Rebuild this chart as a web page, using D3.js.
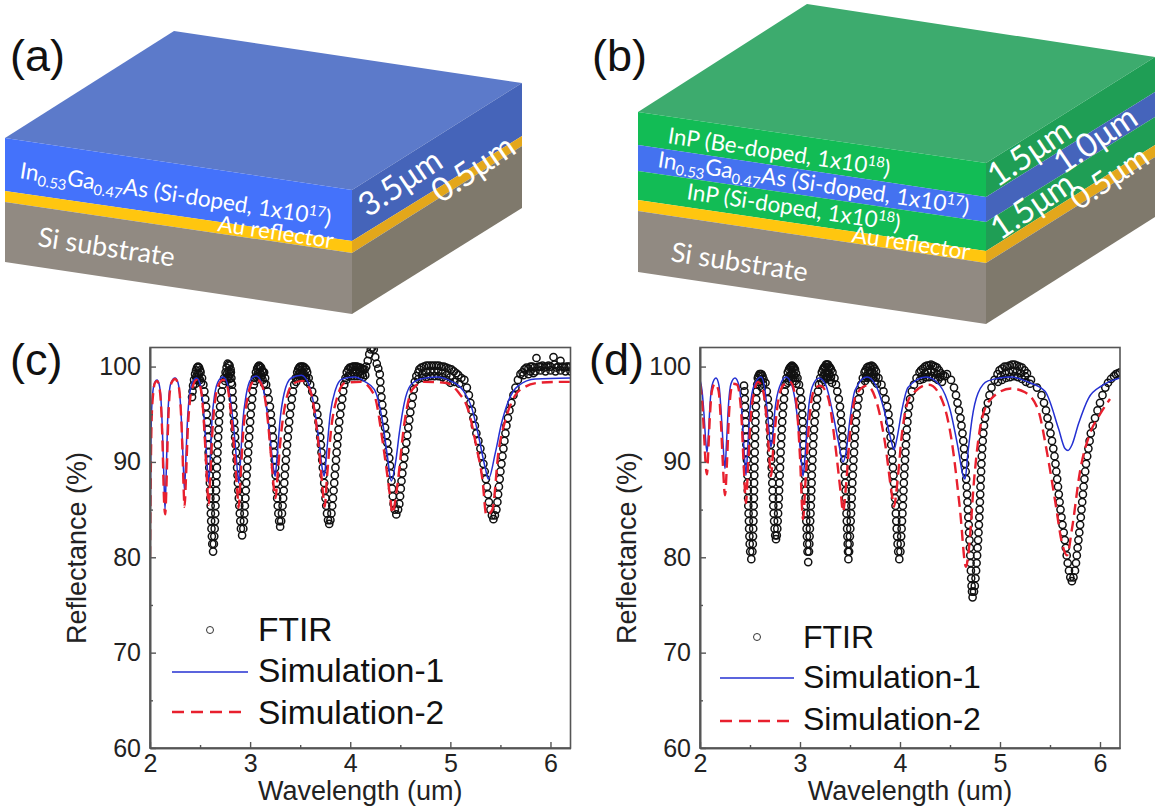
<!DOCTYPE html>
<html>
<head>
<title>Reflectance of cavity structures</title>
<script src="https://d3js.org/d3.v7.min.js"></script>
<style>
    body { margin: 0; background: #fff; }
    svg { display: block; }
    .panel-label { font-family: "Liberation Sans", sans-serif; font-size: 45px; fill: #111; }
    .layer-label { font-family: Lato, "Open Sans", sans-serif; fill: #fff; }
    .tick text { font-family: "Liberation Sans", sans-serif; font-size: 25px; fill: #222; }
    .axis-title { font-family: "Liberation Sans", sans-serif; font-size: 27px; fill: #222; }
    .legend-text { font-family: "Liberation Sans", sans-serif; fill: #111; }
</style>
</head>
<body>
<script>
var w = 1156, h = 810;

// tick labels
var xTicks = [2, 3, 4, 5, 6];
var xMinor = [2.5, 3.5, 4.5, 5.5];
var yTicks = [60, 70, 80, 90, 100];
var yMinor = [65, 75, 85, 95];
var legendNames = ["FTIR", "Simulation-1", "Simulation-2"];

// panel (c) measured spectrum [wavelength, reflectance]
var ftirC = [[2.42,96.8],[2.425,97.4],[2.43,98],[2.44,98.6],[2.45,99.2],[2.46,99.6],[2.47,99.9],[2.48,100],[2.49,99.9],[2.5,99.6],[2.46,98.9],[2.475,99.2],[2.49,99.2],
[2.505,99.4],[2.52,98.8],[2.533,98.1],[2.543,97.4],[2.552,96.6],[2.56,95.8],[2.566,95],[2.571,94.2],[2.575,93.4],[2.58,92.6],[2.583,91.8],[2.586,91],[2.589,90.2],[2.592,89.4],[2.595,88.6],[2.598,87.8],[2.6,87],[2.603,86.2],[2.606,85.4],[2.608,84.6],[2.611,83.8],[2.614,83],[2.618,82.2],[2.622,81.4],[2.63,80.6],
[2.638,81.4],[2.642,82.2],[2.646,83],[2.649,83.8],[2.652,84.6],[2.654,85.4],[2.657,86.2],[2.66,87],[2.662,87.8],[2.665,88.6],[2.668,89.4],[2.671,90.2],[2.674,91],[2.677,91.8],[2.68,92.6],[2.685,93.4],[2.689,94.2],[2.694,95],[2.7,95.8],[2.708,96.6],[2.717,97.4],[2.727,98.1],[2.74,98.8],[2.755,99.4],
[2.765,99.9],[2.775,100.3],[2.785,100.2],[2.795,100.1],[2.805,99.7],[2.77,99.3],[2.785,99.5],[2.8,99.2],
[2.808,99.4],[2.813,98.8],[2.819,98.1],[2.823,97.4],[2.827,96.6],[2.831,95.8],[2.835,95],[2.84,94.2],[2.845,93.4],[2.85,92.6],[2.855,91.8],[2.86,91],[2.865,90.2],[2.87,89.4],[2.874,88.6],[2.878,87.8],[2.882,87],[2.887,86.2],[2.892,85.4],[2.897,84.6],[2.902,83.8],[2.908,83],[2.92,82.3],
[2.932,83],[2.938,83.8],[2.943,84.6],[2.948,85.4],[2.953,86.2],[2.957,87],[2.961,87.8],[2.965,88.6],[2.97,89.4],[2.975,90.2],[2.98,91],[2.985,91.8],[2.99,92.6],[2.995,93.4],[3,94.2],[3.006,95],[3.013,95.8],[3.02,96.6],[3.028,97.4],[3.037,98.1],[3.047,98.8],[3.058,99.4],
[3.07,99.8],[3.08,100],[3.09,100.1],[3.1,100],[3.11,99.9],[3.12,99.6],[3.13,99.4],[3.075,99.2],[3.095,99.4],[3.115,99.1],
[3.14,99.4],[3.15,98.8],[3.16,98.1],[3.173,97.4],[3.185,96.6],[3.198,95.8],[3.207,95],[3.214,94.2],[3.221,93.4],[3.228,92.6],[3.234,91.8],[3.24,91],[3.245,90.2],[3.25,89.4],[3.255,88.6],[3.26,87.8],[3.265,87],[3.27,86.2],[3.276,85.4],[3.282,84.6],[3.29,83.8],[3.3,83.2],
[3.31,83.8],[3.318,84.6],[3.324,85.4],[3.33,86.2],[3.336,87],[3.341,87.8],[3.346,88.6],[3.351,89.4],[3.357,90.2],[3.363,91],[3.369,91.8],[3.376,92.6],[3.383,93.4],[3.39,94.2],[3.398,95],[3.408,95.8],[3.417,96.6],[3.428,97.4],[3.44,98.1],[3.455,98.8],[3.47,99.4],
[3.48,99.7],[3.49,99.9],[3.5,100],[3.515,100],[3.53,100],[3.545,99.9],[3.56,99.7],[3.57,99.4],[3.485,99.2],[3.5,99.3],[3.52,99.3],[3.54,99.2],[3.56,98.9],
[3.585,98.8],[3.6,98.1],[3.62,97.4],[3.64,96.6],[3.66,95.8],[3.672,95],[3.683,94.2],[3.693,93.4],[3.7,92.6],[3.707,91.8],[3.713,91],[3.72,90.2],[3.726,89.4],[3.733,88.6],[3.74,87.8],[3.746,87],[3.753,86.2],[3.76,85.4],[3.768,84.6],[3.778,83.9],[3.79,83.5],
[3.802,83.9],[3.812,84.6],[3.82,85.4],[3.827,86.2],[3.834,87],[3.84,87.8],[3.846,88.6],[3.852,89.4],[3.858,90.2],[3.864,91],[3.87,91.8],[3.876,92.6],[3.883,93.4],[3.89,94.2],[3.9,95],[3.91,95.8],[3.92,96.6],[3.93,97.4],[3.94,98.1],[3.952,98.8],[3.965,99.4],
[3.98,99.7],[3.995,99.9],[4.01,99.9],[4.025,100],[4.04,100],[4.055,100],[4.07,100],[4.085,99.9],[4.1,99.9],[4.115,99.8],[4.13,99.7],[4.145,99.7],[4,99.3],[4.03,99.4],[4.06,99.4],[4.09,99.4],[4.12,99.2],[4.15,99.1],
[4.16,100],[4.175,100.6],[4.19,101.3],[4.205,101.8],[4.22,102],[4.235,101.8],[4.25,101],[4.265,100.3],[4.28,99.8],
[4.295,99.2],[4.3,98.4],[4.305,97.6],[4.312,96.8],[4.32,96],[4.328,95.2],[4.337,94.4],[4.348,93.6],[4.36,92.8],[4.37,92],[4.38,91.2],[4.39,90.4],[4.398,89.6],[4.405,88.8],[4.412,88],[4.418,87.2],[4.425,86.4],[4.433,85.6],[4.445,85],[4.46,84.5],
[4.478,85],[4.49,85.6],[4.498,86.4],[4.505,87.2],[4.512,88],[4.52,88.8],[4.53,89.6],[4.54,90.4],[4.55,91.2],[4.56,92],[4.57,92.8],[4.58,93.6],[4.59,94.4],[4.6,95.2],[4.615,96],[4.625,96.8],[4.635,97.6],[4.645,98.4],[4.66,99],[4.68,99.4],
[4.69,99.7],[4.71,99.9],[4.735,100],[4.76,100.1],[4.785,100.1],[4.81,100.1],[4.835,100.1],[4.86,100.1],[4.885,100.1],[4.91,100],[4.935,100],[4.96,99.9],[4.985,99.8],[5.01,99.7],[5.035,99.5],[5.06,99.3],[5.08,99.1],[4.72,99.2],[4.76,99.4],[4.8,99.5],[4.84,99.5],[4.88,99.5],[4.92,99.3],[4.96,99.1],[5,98.9],
[5.11,98.8],[5.14,98.6],[5.165,97.8],[5.185,97],[5.2,96.2],[5.215,95.4],[5.23,94.6],[5.245,93.8],[5.26,93],[5.28,92.2],[5.3,91.4],[5.315,90.6],[5.33,89.8],[5.343,89],[5.355,88.2],[5.365,87.4],[5.375,86.6],[5.385,85.8],[5.4,85],[5.415,84.4],[5.43,84],
[5.445,84.4],[5.46,85],[5.47,85.8],[5.477,86.6],[5.485,87.4],[5.493,88.2],[5.5,89],[5.51,89.8],[5.52,90.6],[5.53,91.4],[5.54,92.2],[5.55,93],[5.56,93.8],[5.575,94.6],[5.59,95.4],[5.61,96.2],[5.63,97],[5.65,97.8],[5.675,98.6],[5.7,99.2],
[5.72,99.4],[5.74,99.7],[5.76,99.9],[5.78,99.8],[5.8,100],[5.82,100],[5.84,99.9],[5.86,100.9],[5.88,100],[5.9,100],[5.92,100.1],[5.94,99.9],[5.96,100],[5.98,100.1],[6,100],[6.03,101],[6.04,100.2],[6.06,99.9],[6.08,100],[6.1,100.6],[6.12,100],[6.14,99.9],[6.16,100],[6.18,100],[6.2,100],[5.8,99.5],[5.85,99.5],[5.9,99.6],[5.95,99.5],[6,99.6],[6.05,99.5],[6.1,99.6],[6.15,99.5],[6.2,99.5]];
// lower edge of the thick black band along the crests of (c)
var ftirCband = [[2.455,98.2],[2.47,98.6],[2.485,98.7],[2.5,98.6],[2.51,98.3],[2.75,98.5],[2.765,98.8],[2.78,98.9],[2.795,98.7],[2.81,98.3],[3.05,98.5],[3.065,98.9],[3.08,99],[3.095,99],[3.11,98.9],[3.125,98.6],[3.14,98.2],[3.46,98.4],[3.475,98.8],[3.49,98.9],[3.51,99],[3.53,99],[3.55,98.8],[3.57,98.4],[3.96,98.6],[3.98,99],[4.01,99],[4.04,99],[4.07,99],[4.1,99],[4.13,98.9],[4.68,98.7],[4.72,98.8],[4.76,98.9],[4.8,99],[4.84,99],[4.88,99],[4.92,98.9],[4.96,98.6],[5,98.3],[5.04,98.4],[5.09,98.2],[5.73,99.1],[5.78,99.2],[5.83,99.3]];

// panel (c) simulations
var sim1C = [[2,81],[2.005,88],[2.015,95],[2.03,97.5],[2.05,98.4],[2.07,98.6],[2.09,98.2],[2.11,96.5],[2.125,93],[2.14,88],[2.15,85],[2.16,88],[2.175,94],[2.19,97],[2.21,98.3],[2.25,98.8],[2.28,98.3],[2.305,96],[2.32,93],[2.335,89],[2.345,87],[2.355,89.5],[2.375,94.5],[2.395,97],[2.43,98.5],[2.465,98.8],[2.5,98.2],[2.53,96],[2.555,92.5],[2.575,89],[2.587,87.8],[2.6,90],[2.62,94.5],[2.645,97],[2.69,98.6],[2.73,98.9],[2.77,98.3],[2.81,96],[2.85,92],[2.875,88.8],[2.885,87.8],[2.9,89.5],[2.925,94],[2.96,97],[3.01,98.7],[3.06,99],[3.11,98.4],[3.16,96],[3.2,92.5],[3.235,89.2],[3.25,88.5],[3.265,90],[3.3,94.5],[3.34,97.2],[3.41,98.8],[3.51,99.1],[3.58,98.3],[3.64,95.8],[3.69,92],[3.725,89],[3.74,88.5],[3.76,90.5],[3.8,95],[3.85,97.5],[3.92,98.7],[4.04,98.9],[4.15,98.4],[4.24,97.6],[4.32,94.4],[4.37,90.7],[4.41,88],[4.455,90.1],[4.49,93],[4.54,96.2],[4.6,98],[4.7,98.7],[4.87,98.9],[5.0,98.5],[5.12,97.6],[5.21,95.8],[5.28,92.8],[5.35,89.3],[5.38,88.2],[5.45,91],[5.51,94],[5.58,96.4],[5.68,98],[5.85,98.7],[6.2,98.8]];
var sim2C = [[2,80],[2.005,86],[2.015,94],[2.03,97],[2.05,98.3],[2.07,98.5],[2.09,98],[2.11,96],[2.125,92],[2.14,86],[2.152,84.5],[2.163,87],[2.178,93],[2.195,97],[2.215,98.3],[2.25,98.7],[2.285,98],[2.31,95],[2.325,91],[2.335,87.5],[2.345,85.3],[2.358,88],[2.378,93.5],[2.4,96.5],[2.43,98],[2.465,98.6],[2.5,98],[2.53,95.5],[2.555,91],[2.575,87],[2.587,85.5],[2.6,88],[2.625,93.5],[2.655,96.8],[2.695,98.3],[2.73,98.6],[2.77,98],[2.81,95],[2.85,90],[2.875,86.5],[2.885,85.2],[2.9,87.5],[2.93,93],[2.97,96.5],[3.02,98.3],[3.07,98.6],[3.12,98],[3.17,95],[3.21,90.5],[3.24,87],[3.255,86.2],[3.27,88],[3.31,93],[3.36,96.5],[3.43,98.2],[3.52,98.5],[3.6,97.5],[3.66,94],[3.7,90],[3.73,86.5],[3.745,85.3],[3.765,88],[3.81,93.5],[3.87,96.8],[3.95,98.3],[4.105,98.4],[4.24,97],[4.32,92.4],[4.355,89.8],[4.405,85.8],[4.42,84.6],[4.47,87.5],[4.54,94],[4.62,97.6],[4.74,98.4],[4.95,98.3],[5.08,97.3],[5.18,95.4],[5.26,91.6],[5.32,88.2],[5.36,84.4],[5.42,85],[5.48,91],[5.55,94.4],[5.65,97],[5.75,97.9],[5.88,98.3],[6.11,98.4],[6.2,98.4]];

// panel (d) measured spectrum
var ftirD = [[2.44,98],[2.445,97.4],[2.448,96.6],[2.45,95.8],[2.453,95],[2.456,94.2],[2.459,93.4],[2.462,92.6],[2.464,91.8],[2.467,91],[2.469,90.2],[2.472,89.4],[2.474,88.6],[2.476,87.8],[2.478,87],[2.481,86.2],[2.483,85.4],[2.486,84.6],[2.489,83.8],[2.491,83],[2.494,82.2],[2.497,81.4],[2.502,80.6],[2.513,79.8],
[2.524,80.6],[2.528,81.4],[2.53,82.2],[2.532,83],[2.534,83.8],[2.536,84.6],[2.537,85.4],[2.539,86.2],[2.54,87],[2.541,87.8],[2.543,88.6],[2.544,89.4],[2.545,90.2],[2.547,91],[2.549,91.8],[2.55,92.6],[2.552,93.4],[2.554,94.2],[2.556,95],[2.559,95.8],[2.562,96.6],[2.567,97.4],[2.572,98.1],[2.578,98.8],
[2.585,99],[2.595,99.2],[2.605,99.2],[2.615,99.2],[2.625,99],[2.635,98.7],[2.59,98.4],[2.61,98.5],[2.63,98.2],
[2.655,98.3],[2.668,97.4],[2.678,96.6],[2.685,95.8],[2.69,95],[2.695,94.2],[2.699,93.4],[2.703,92.6],[2.707,91.8],[2.71,91],[2.713,90.2],[2.717,89.4],[2.72,88.6],[2.723,87.8],[2.726,87],[2.73,86.2],[2.733,85.4],[2.737,84.6],[2.741,83.8],[2.746,83],[2.752,82.3],[2.76,81.9],
[2.768,82.3],[2.773,83],[2.777,83.8],[2.781,84.6],[2.785,85.4],[2.788,86.2],[2.791,87],[2.794,87.8],[2.797,88.6],[2.8,89.4],[2.803,90.2],[2.806,91],[2.81,91.8],[2.814,92.6],[2.818,93.4],[2.822,94.2],[2.827,95],[2.833,95.8],[2.84,96.6],[2.847,97.4],[2.855,98.1],[2.865,98.8],[2.878,99.4],
[2.89,99.7],[2.9,99.9],[2.91,100],[2.92,100.1],[2.93,100],[2.94,99.9],[2.95,99.7],[2.96,99.3],[2.895,99],[2.91,99.2],[2.925,99.3],[2.94,99.1],[2.955,98.8],
[2.975,98.8],[2.99,98.1],[3.002,97.4],[3.012,96.6],[3.018,95.8],[3.023,95],[3.027,94.2],[3.031,93.4],[3.034,92.6],[3.037,91.8],[3.04,91],[3.043,90.2],[3.046,89.4],[3.049,88.6],[3.051,87.8],[3.053,87],[3.056,86.2],[3.058,85.4],[3.061,84.6],[3.063,83.8],[3.066,83],[3.069,82.2],[3.072,81.4],[3.075,80.6],[3.082,79.5],
[3.09,80.6],[3.093,81.4],[3.096,82.2],[3.099,83],[3.102,83.8],[3.105,84.6],[3.108,85.4],[3.111,86.2],[3.113,87],[3.116,87.8],[3.118,88.6],[3.121,89.4],[3.124,90.2],[3.128,91],[3.131,91.8],[3.135,92.6],[3.14,93.4],[3.146,94.2],[3.153,95],[3.162,95.8],[3.171,96.6],[3.18,97.4],[3.19,98.1],[3.202,98.8],[3.218,99.4],
[3.23,99.7],[3.24,99.9],[3.25,100],[3.26,100.2],[3.27,100.2],[3.28,100.2],[3.29,100],[3.3,99.9],[3.31,99.7],[3.235,99],[3.25,99.3],[3.265,99.4],[3.28,99.4],[3.295,99.2],[3.31,98.9],
[3.325,99.4],[3.345,98.8],[3.36,98.1],[3.373,97.4],[3.388,96.6],[3.4,95.8],[3.408,95],[3.414,94.2],[3.42,93.4],[3.425,92.6],[3.43,91.8],[3.436,91],[3.441,90.2],[3.445,89.4],[3.449,88.6],[3.453,87.8],[3.456,87],[3.459,86.2],[3.462,85.4],[3.465,84.6],[3.468,83.8],[3.471,83],[3.474,82.2],[3.477,81.4],[3.48,80.6],[3.484,79.8],
[3.491,80.6],[3.495,81.4],[3.499,82.2],[3.503,83],[3.507,83.8],[3.51,84.6],[3.514,85.4],[3.517,86.2],[3.52,87],[3.523,87.8],[3.527,88.6],[3.531,89.4],[3.535,90.2],[3.54,91],[3.544,91.8],[3.548,92.6],[3.553,93.4],[3.559,94.2],[3.566,95],[3.575,95.8],[3.585,96.6],[3.598,97.4],[3.612,98.1],[3.628,98.8],[3.645,99.4],
[3.655,99.6],[3.67,99.9],[3.685,100],[3.7,100],[3.715,100.1],[3.73,100],[3.745,99.8],[3.76,99.5],[3.66,99],[3.68,99.3],[3.7,99.4],[3.72,99.4],[3.74,99.2],[3.76,98.9],
[3.785,98.8],[3.815,98.1],[3.835,97.4],[3.855,96.6],[3.872,95.8],[3.885,95],[3.893,94.2],[3.9,93.4],[3.906,92.6],[3.912,91.8],[3.918,91],[3.925,90.2],[3.93,89.4],[3.935,88.6],[3.94,87.8],[3.945,87],[3.95,86.2],[3.955,85.4],[3.959,84.6],[3.963,83.8],[3.967,83],[3.971,82.2],[3.976,81.4],[3.982,80.6],[3.993,79.8],
[4.004,80.6],[4.008,81.4],[4.012,82.2],[4.016,83],[4.02,83.8],[4.024,84.6],[4.028,85.4],[4.031,86.2],[4.035,87],[4.038,87.8],[4.042,88.6],[4.046,89.4],[4.05,90.2],[4.054,91],[4.059,91.8],[4.063,92.6],[4.068,93.4],[4.074,94.2],[4.08,95],[4.09,95.8],[4.1,96.6],[4.118,97.4],[4.14,98.1],[4.165,98.8],[4.195,99.4],
[4.21,99.6],[4.23,99.8],[4.25,100],[4.27,100.1],[4.29,100.1],[4.31,100.2],[4.33,100.1],[4.35,100],[4.37,99.9],[4.39,99.6],[4.41,99.3],[4.22,99],[4.25,99.3],[4.28,99.4],[4.31,99.5],[4.34,99.4],[4.37,99.2],[4.4,98.9],
[4.43,99.1],[4.45,99],[4.47,99.2],[4.51,98.6],[4.54,97.8],[4.56,97],[4.575,96.2],[4.59,95.4],[4.605,94.6],[4.615,93.8],[4.625,93],[4.633,92.2],[4.64,91.4],[4.647,90.6],[4.652,89.8],[4.657,89],[4.662,88.2],[4.667,87.4],[4.671,86.6],[4.675,85.8],[4.679,85],[4.683,84.2],[4.687,83.4],[4.691,82.6],[4.695,81.8],[4.699,81],[4.703,80.2],[4.706,79.4],[4.709,78.6],[4.712,77.8],[4.716,77],[4.72,76.4],[4.726,75.8],
[4.74,76.4],[4.748,77],[4.755,77.8],[4.761,78.6],[4.766,79.4],[4.771,80.2],[4.776,81],[4.781,81.8],[4.785,82.6],[4.789,83.4],[4.793,84.2],[4.796,85],[4.799,85.8],[4.802,86.6],[4.805,87.4],[4.808,88.2],[4.811,89],[4.814,89.8],[4.818,90.6],[4.822,91.4],[4.827,92.2],[4.833,93],[4.84,93.8],[4.85,94.6],[4.862,95.4],[4.878,96.2],[4.895,97],[4.915,97.8],[4.945,98.6],[4.975,99.2],
[4.995,99.6],[5.02,99.8],[5.045,100],[5.07,100],[5.095,100.1],[5.12,100.2],[5.145,100.2],[5.17,100.1],[5.195,100],[5.22,99.9],[5.245,99.6],[5.27,99.3],[5.01,99],[5.05,99.3],[5.09,99.4],[5.13,99.5],[5.17,99.5],[5.21,99.3],[5.25,99],
[5.31,98.6],[5.37,97.8],[5.415,97],[5.44,96.2],[5.46,95.4],[5.475,94.6],[5.49,93.8],[5.505,93],[5.52,92.2],[5.533,91.4],[5.545,90.6],[5.555,89.8],[5.563,89],[5.572,88.2],[5.58,87.4],[5.588,86.6],[5.596,85.8],[5.605,85],[5.615,84.2],[5.625,83.4],[5.637,82.6],[5.648,81.8],[5.658,81],[5.667,80.2],[5.677,79.4],[5.69,78.6],[5.703,77.9],[5.719,77.5],
[5.735,77.9],[5.75,78.6],[5.76,79.4],[5.768,80.2],[5.776,81],[5.784,81.8],[5.793,82.6],[5.801,83.4],[5.808,84.2],[5.815,85],[5.822,85.8],[5.829,86.6],[5.836,87.4],[5.844,88.2],[5.852,89],[5.86,89.8],[5.872,90.6],[5.884,91.4],[5.896,92.2],[5.908,93],[5.927,93.8],[5.95,94.6],[5.975,95.4],[6,96.2],[6.025,97],[6.053,97.8],[6.08,98.3],[6.11,98.7],[6.14,99],[6.16,99.2],[6.18,99.3],[6.2,99.4]];
// lower edge of the thick black band along the crests of (d)
var ftirDband = [[2.6,98],[2.62,97.8],[2.875,98.3],[2.89,98.5],[2.91,98.7],[2.93,98.8],[2.95,98.5],[2.965,98.2],[3.22,98.3],[3.24,98.6],[3.26,98.8],[3.28,98.9],[3.3,98.6],[3.32,98.3],[3.65,98.5],[3.67,98.8],[3.69,98.9],[3.71,98.9],[3.73,98.8],[3.75,98.5],[3.77,98.2],[4.2,98.6],[4.23,98.7],[4.26,98.9],[4.29,98.9],[4.32,99],[4.35,98.8],[4.38,98.6],[4.42,98.4],[4.98,98.4],[5.02,98.6],[5.06,98.8],[5.1,98.9],[5.14,99],[5.18,98.9],[5.22,98.7],[5.26,98.4],[5.3,98.2]];

// panel (d) simulations
var sim1D = [[2,98.6],[2.02,97.5],[2.04,95],[2.055,92.5],[2.07,91],[2.085,93],[2.1,96],[2.12,98],[2.16,98.8],[2.19,98],[2.21,95.5],[2.23,92],[2.25,89.3],[2.265,92],[2.285,96],[2.31,98.2],[2.35,98.8],[2.39,98],[2.42,95],[2.445,90.5],[2.46,88.6],[2.475,91],[2.5,95.5],[2.54,98],[2.61,98.9],[2.65,97.5],[2.68,94.5],[2.7,92.2],[2.71,91.6],[2.725,92.5],[2.75,95.5],[2.8,98],[2.86,98.9],[2.92,98],[2.97,95],[3.01,90.5],[3.03,88.5],[3.05,90.5],[3.08,95],[3.12,97.8],[3.19,98.8],[3.26,98],[3.33,95],[3.39,91.8],[3.43,90],[3.46,91],[3.5,94.5],[3.55,97.5],[3.67,98.9],[3.76,98],[3.84,95.5],[3.91,92.3],[3.94,91.3],[3.97,92.5],[4.02,95.5],[4.08,97.8],[4.26,98.9],[4.4,98],[4.5,95.5],[4.58,91.5],[4.63,88.6],[4.65,88.2],[4.68,91],[4.72,94.5],[4.78,97.2],[4.88,98.5],[5.11,98.9],[5.3,98.3],[5.45,97.4],[5.585,93.5],[5.65,91.4],[5.68,91.2],[5.72,91.8],[5.785,94],[5.886,96.7],[6.02,98],[6.2,98.8]];
var sim2D = [[2,98.2],[2.02,96.5],[2.04,93],[2.058,89.5],[2.07,88.7],[2.082,91],[2.1,95],[2.12,97.5],[2.15,98.2],[2.185,97.5],[2.21,94],[2.23,89.5],[2.25,86.5],[2.27,90],[2.29,95],[2.31,97.5],[2.33,98.2],[2.37,98.1],[2.41,95.5],[2.44,89],[2.46,85.7],[2.48,89.5],[2.51,95],[2.545,97.5],[2.58,98.4],[2.63,97.5],[2.67,94],[2.7,89.5],[2.71,88.5],[2.73,91],[2.77,95.5],[2.83,98],[2.9,98.4],[2.96,96.5],[3,90.5],[3.03,84],[3.055,88],[3.09,94],[3.14,97.5],[3.2,98],[3.28,96.8],[3.35,92],[3.41,86.5],[3.43,84.8],[3.46,87.5],[3.5,93],[3.56,97],[3.67,98],[3.76,96.5],[3.85,92],[3.92,86.5],[3.94,85.3],[3.97,87.5],[4.02,93],[4.1,96.8],[4.29,98.1],[4.42,96.5],[4.52,92],[4.6,85],[4.66,79],[4.69,81],[4.74,88],[4.8,93.5],[4.9,96.5],[5.11,97.7],[5.25,97.3],[5.38,95.5],[5.47,91],[5.55,86],[5.62,81.5],[5.67,80.2],[5.72,83],[5.8,89],[5.9,93],[6,95],[6.08,96.3],[6.1,96.6]];

// schematic blocks: corners of the faces and layer edges at [left, front, right]
var blockAx = [5, 352, 522], blockAapex = [174, 31];
var blockAlayers = [
    { top: [138, 190, 83], bottom: [191, 241, 136], front: "#4472fb", side: "#4564b9" },
    { top: [191, 241, 136], bottom: [202, 253, 146], front: "#ffc60f", side: "#e3a71b" },
    { top: [202, 253, 146], bottom: [262, 314, 208], front: "#918a82", side: "#7f796c" }
];
var blockBx = [638, 986, 1155], blockBapex = [807, 4];
var blockBlayers = [
    { top: [112, 163, 57], bottom: [145, 197, 92], front: "#12bc55", side: "#1f9e55" },
    { top: [145, 197, 92], bottom: [171, 222, 117], front: "#4472f0", side: "#4564bb" },
    { top: [171, 222, 117], bottom: [200, 251, 145], front: "#12bc55", side: "#1f9e55" },
    { top: [200, 251, 145], bottom: [211, 263, 157], front: "#ffc60f", side: "#e3a71b" },
    { top: [211, 263, 157], bottom: [272, 324, 217], front: "#918a82", side: "#7f796c" }
];

var svg = d3.select("body").append("svg").attr("width", w).attr("height", h);
svg.append("rect").attr("width", w).attr("height", h).attr("fill", "#fff");

var poly = d3.line().curve(d3.curveLinearClosed);

function drawBlock(xs, apex, layers, topColor) {
    var first = layers[0].top;
    svg.append("path").attr("fill", topColor)
        .attr("d", poly([[xs[0], first[0]], apex, [xs[2], first[2]], [xs[1], first[1]]]));
    layers.forEach(function (l) {
        svg.append("path").attr("fill", l.front)
            .attr("d", poly([[xs[0], l.top[0]], [xs[1], l.top[1]], [xs[1], l.bottom[1]], [xs[0], l.bottom[0]]]));
        svg.append("path").attr("fill", l.side)
            .attr("d", poly([[xs[1], l.top[1]], [xs[2], l.top[2]], [xs[2], l.bottom[2]], [xs[1], l.bottom[1]]]));
    });
}
drawBlock(blockAx, blockAapex, blockAlayers, "#5c7aca");
drawBlock(blockBx, blockBapex, blockBlayers, "#3dab6e");

// label with optional sub/superscript pieces: [text, "sub"|"sup"|""]
function layerLabel(x, y, angle, size, parts) {
    var t = svg.append("text").attr("class", "layer-label")
        .attr("transform", "translate(" + x + "," + y + ") rotate(" + angle + ")")
        .attr("font-size", size);
    var shift = 0;
    parts.forEach(function (p) {
        var want = p[1] === "sub" ? size * 0.22 : p[1] === "sup" ? -size * 0.35 : 0;
        t.append("tspan").attr("dy", want - shift)
            .attr("font-size", p[1] ? size * 0.65 : size).text(p[0]);
        shift = want;
    });
}

var inGaAs = [["In", ""], ["0.53", "sub"], ["Ga", ""], ["0.47", "sub"], ["As (Si-doped, 1x10", ""], ["17", "sup"], [")", ""]];
layerLabel(19, 178, 8.8, 22.6, inGaAs);
layerLabel(37, 246, 8.6, 27, [["Si substrate", ""]]);
layerLabel(217, 231, 8.6, 22.3, [["Au reflector", ""]]);
layerLabel(368, 218, -34, 33, [["3.5μm", ""]]);
layerLabel(441, 204, -34, 33, [["0.5μm", ""]]);

layerLabel(667, 143, 8.6, 22.5, [["InP (Be-doped, 1x10", ""], ["18", "sup"], [")", ""]]);
layerLabel(657, 167, 8.8, 22.6, inGaAs);
layerLabel(686, 199, 8.6, 22.5, [["InP (Si-doped, 1x10", ""], ["18", "sup"], [")", ""]]);
layerLabel(851, 242, 8.6, 22.8, [["Au reflector", ""]]);
layerLabel(670, 261, 8.6, 27, [["Si substrate", ""]]);
layerLabel(997, 188, -34, 33, [["1.5μm", ""]]);
layerLabel(1063, 175, -34, 33, [["1.0μm", ""]]);
layerLabel(1000, 241, -34, 33, [["1.5μm", ""]]);
layerLabel(1079, 211, -34, 31, [["0.5μm", ""]]);

svg.append("text").attr("class", "panel-label").attr("x", 10).attr("y", 71).text("(a)");
svg.append("text").attr("class", "panel-label").attr("x", 592).attr("y", 71).text("(b)");
svg.append("text").attr("class", "panel-label").attr("x", 10).attr("y", 375).text("(c)");
svg.append("text").attr("class", "panel-label").attr("x", 589).attr("y", 375).text("(d)");

// spectrum panels
function drawPanel(id, left, right, ftir, sim1, sim2, lg) {
    var x = d3.scaleLinear().domain([2, 6.2]).range([left, right]);
    var y = d3.scaleLinear().domain([60, 102]).range([748, 347.5]);

    var g = svg.append("g");
    g.append("clipPath").attr("id", "clip" + id).append("rect")
        .attr("x", left).attr("y", 347.5).attr("width", right - left).attr("height", 400.5);

    var plot = g.append("g").attr("clip-path", "url(#clip" + id + ")");
    plot.selectAll("circle").data(ftir).enter().append("circle")
        .attr("cx", function (d) { return x(d[0]); })
        .attr("cy", function (d) { return y(d[1]); })
        .attr("r", 3.6)
        .attr("fill", "none")
        .attr("stroke", "#111")
        .attr("stroke-width", 1.5);

    var line = d3.line()
        .x(function (d) { return x(d[0]); })
        .y(function (d) { return y(d[1]); })
        .curve(d3.curveMonotoneX);

    plot.append("path").attr("d", line(sim1)).attr("fill", "none")
        .attr("stroke", "#2430d2").attr("stroke-width", 1.5);
    plot.append("path").attr("d", line(sim2)).attr("fill", "none")
        .attr("stroke", "#e8202e").attr("stroke-width", 2.4).attr("stroke-dasharray", "11 6");

    // frame
    g.append("rect").attr("x", left).attr("y", 347.5).attr("width", right - left).attr("height", 400.5)
        .attr("fill", "none").attr("stroke", "#555").attr("stroke-width", 1.6);

    g.append("g").attr("transform", "translate(0,748)")
        .call(d3.axisBottom(x).tickValues(xTicks).tickSizeInner(-6).tickSizeOuter(0).tickPadding(6).tickFormat(d3.format("d")));
    g.append("g").attr("transform", "translate(0,748)")
        .call(d3.axisBottom(x).tickValues(xMinor).tickSizeInner(-3).tickSizeOuter(0).tickFormat(""));
    g.append("g").attr("transform", "translate(" + left + ",0)")
        .call(d3.axisLeft(y).tickValues(yTicks).tickSizeInner(-6).tickSizeOuter(0).tickPadding(9).tickFormat(d3.format("d")));
    g.append("g").attr("transform", "translate(" + left + ",0)")
        .call(d3.axisLeft(y).tickValues(yMinor).tickSizeInner(-3).tickSizeOuter(0).tickFormat(""));
    g.selectAll(".domain").attr("stroke", "#555").attr("stroke-width", 1.6);
    g.selectAll(".tick line").attr("stroke", "#555").attr("stroke-width", 1.4);

    g.append("text").attr("class", "axis-title").attr("text-anchor", "middle")
        .attr("x", (left + right) / 2).attr("y", 800).text("Wavelength (um)");
    g.append("text").attr("class", "axis-title").attr("text-anchor", "middle")
        .attr("transform", "translate(" + (left - 64) + ",548) rotate(-90)").text("Reflectance (%)");

    // legend
    g.append("circle").attr("cx", lg.sym).attr("cy", lg.rows[0]).attr("r", 3.5)
        .attr("fill", "none").attr("stroke", "#333").attr("stroke-width", 1);
    g.append("line").attr("x1", lg.line[0]).attr("x2", lg.line[1]).attr("y1", lg.rows[1]).attr("y2", lg.rows[1])
        .attr("stroke", "#2430d2").attr("stroke-width", 1.5);
    g.append("line").attr("x1", lg.line[0]).attr("x2", lg.line[1]).attr("y1", lg.rows[2]).attr("y2", lg.rows[2])
        .attr("stroke", "#e8202e").attr("stroke-width", 2.4).attr("stroke-dasharray", "12 7");
    legendNames.forEach(function (name, i) {
        g.append("text").attr("class", "legend-text").attr("x", lg.text).attr("font-size", lg.size)
            .attr("y", lg.base[i]).text(name);
    });
}

drawPanel("c", 150, 570.5, ftirC.concat(ftirCband), sim1C, sim2C,
    { sym: 210, line: [172, 248], text: 258, size: 33.5, rows: [630, 672, 712], base: [641, 682, 724] });
drawPanel("d", 700, 1120, ftirD.concat(ftirDband), sim1D, sim2D,
    { sym: 757, line: [720, 794], text: 803, size: 32, rows: [637, 678, 721], base: [648, 688, 730] });
</script>
</body>
</html>
